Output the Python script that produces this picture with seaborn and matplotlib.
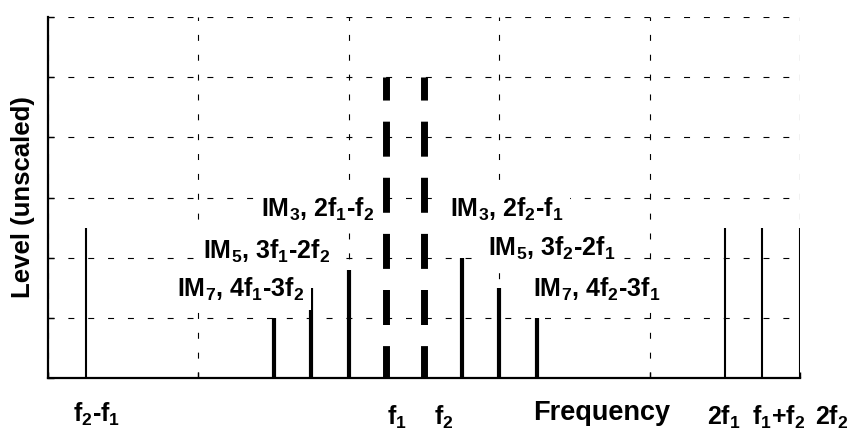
import numpy as np
import pandas as pd
import matplotlib
matplotlib.use("Agg")
import matplotlib.pyplot as plt
import seaborn as sns

# ---------------- data ----------------
# frequency axis in units of (f2 - f1); f1 = 9, f2 = 10
thin_names = ["f2-f1", "2f1", "f1+f2", "2f2"]
thin_freq = [1, 18, 19, 20]
thin_level = [2.5, 2.5, 2.5, 2.5]

im_names = ["IM7 low", "IM5 low", "IM3 low", "IM3 high", "IM5 high", "IM7 high"]
im_freq = [6, 7, 8, 11, 12, 13]
im_level = [1.0, 1.5, 1.8, 2.0, 1.5, 1.0]

tone_names = ["f1", "f2"]
tone_freq = [9, 10]
tone_level = [5.0, 5.0]

im_labels = ["IM$_3$, 2f$_1$-f$_2$", "IM$_5$, 3f$_1$-2f$_2$", "IM$_7$, 4f$_1$-3f$_2$",
             "IM$_3$, 2f$_2$-f$_1$", "IM$_5$, 3f$_2$-2f$_1$", "IM$_7$, 4f$_2$-3f$_1$"]
freq_labels = ["f$_2$-f$_1$", "f$_1$", "f$_2$", "Frequency", "2f$_1$", "f$_1$+f$_2$", "2f$_2$"]
y_label = "Level (unscaled)"

# ---------------- style ----------------
sns.set_theme(style="white")
plt.rcParams.update({
    "font.family": ["Liberation Sans", "DejaVu Sans"],
    "font.weight": "bold",
    "mathtext.fontset": "custom",
    "mathtext.rm": "Liberation Sans:bold",
    "mathtext.it": "Liberation Sans:bold",
    "mathtext.bf": "Liberation Sans:bold",
    "mathtext.default": "rm",
    "lines.scale_dashes": False,
})


def stem_frame(names, freq, level):
    rows = []
    for n, f, l in zip(names, freq, level):
        rows.append({"stem": n, "x": f, "y": l})
        rows.append({"stem": n, "x": f, "y": 0.0})
    return pd.DataFrame(rows)


fig = plt.figure(figsize=(8.56, 4.32), dpi=100)
ax = fig.add_axes([48 / 856, 1 - 378 / 432, 752 / 856, 361 / 432])

common = dict(x="x", y="y", units="stem", estimator=None, sort=False,
              color="black", legend=False, ax=ax)

sns.lineplot(data=stem_frame(thin_names, thin_freq, thin_level), lw=1.5, **common)
sns.lineplot(data=stem_frame(im_names, im_freq, im_level), lw=3.0, **common)
n_before = len(ax.lines)
sns.lineplot(data=stem_frame(tone_names, tone_freq, tone_level), lw=5.0, **common)
for ln in ax.lines[n_before:]:
    ln.set_linestyle((8.6, (25.2, 15.2)))
for ln in ax.lines:
    ln.set_solid_capstyle("butt")
    ln.set_dash_capstyle("butt")
    ln.set_zorder(3)

ax.set_xlim(0, 20)
ax.set_ylim(0, 6)
ax.set_xticks(np.arange(0, 21, 4))
ax.set_yticks(np.arange(0, 7, 1))
ax.set_axisbelow(True)
ax.grid(True, color="black", linestyle=(0, (4.3, 10.0)), linewidth=0.8)
ax.tick_params(direction="in", length=4, width=1, colors="black",
               bottom=True, left=True, labelbottom=False, labelleft=False)
ax.set_xlabel("")
ax.set_ylabel(y_label, fontsize=18.5, fontweight="bold", color="black")
ax.yaxis.set_label_coords(-0.017, 0.5)
for side in ["top", "right"]:
    ax.spines[side].set_visible(False)
for side in ["left", "bottom"]:
    ax.spines[side].set_color("black")
    ax.spines[side].set_linewidth(1.6)
    ax.spines[side].set_zorder(4)

# intermod labels (left edge, baseline) in data units
im_label_x = [5.665, 4.12, 3.43, 10.69, 11.70, 12.90]
im_label_y = [2.676, 1.978, 1.346, 2.676, 2.028, 1.346]
for t, x, y in zip(im_labels, im_label_x, im_label_y):
    ax.text(x, y, t, fontsize=18, fontweight="bold", ha="left", va="baseline",
            color="black", zorder=5,
            bbox=dict(facecolor="white", edgecolor="none", pad=5))

# frequency labels under the axis
fl_x = [0.665, 9.016, 10.27, 12.90, 17.53, 18.72, 20.40]
fl_y = [-0.72, -0.77, -0.77, -0.70, -0.78, -0.78, -0.78]
fl_size = [18, 18, 18, 19.5, 18, 18, 18]
for t, x, y, s in zip(freq_labels, fl_x, fl_y, fl_size):
    ax.text(x, y, t, fontsize=s, fontweight="bold", ha="left", va="baseline",
            color="black", clip_on=False)

fig.savefig("out.png", dpi=100)
